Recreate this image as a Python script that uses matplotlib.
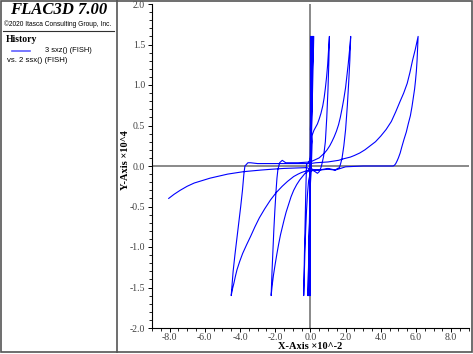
import numpy as np
import matplotlib
matplotlib.use("Agg")
import matplotlib.pyplot as plt
from matplotlib.lines import Line2D
from matplotlib.patches import Rectangle
from matplotlib.ticker import MultipleLocator

# --- history data (x: ssx x10^-2, y: sxz x10^4) ---
small_loops_x = [0.0, -0.02, 0.03, -0.05, 0.07, -0.08, 0.11, -0.11, 0.15, -0.14, 0.19, 0.0]
small_loops_y = [0.0, -1.6, 1.6, -1.6, 1.6, -1.6, 1.6, -1.6, 1.6, -1.6, 1.6, 0.45]

# tension cycle, peak near 1.1
load_c_x = [0.1, 0.05, 0.2, 0.4, 0.5, 0.6, 0.66, 0.75, 0.85, 0.93, 1.0, 1.05, 1.08]
load_c_y = [0.3, -0.03, -0.06, -0.09, -0.07, -0.02, 0.03, 0.12, 0.3, 0.6, 0.95, 1.3, 1.6]
unload_c_x = [1.08, 1.03, 0.98, 0.92, 0.85, 0.78, 0.7, 0.6, 0.5, 0.4, 0.3, 0.2, 0.1]
unload_c_y = [1.6, 1.42, 1.25, 1.1, 0.96, 0.84, 0.74, 0.65, 0.58, 0.52, 0.48, 0.44, 0.38]

# compression cycle, trough near -0.38
load_f_x = [0.0, -0.1, -0.22, -0.26, -0.3, -0.34, -0.38]
load_f_y = [0.1, 0.04, 0.02, -0.3, -0.7, -1.1, -1.6]
unload_f_x = [-0.38, -0.35, -0.31, -0.27, -0.22, -0.16, -0.1, 0.0]
unload_f_y = [-1.6, -1.35, -1.05, -0.8, -0.55, -0.33, -0.18, -0.08]

# tension cycle, peak near 2.3
load_b_x = [0.0, 0.5, 1.0, 1.4, 1.55, 1.65, 1.72, 1.8, 1.9, 2.0, 2.1, 2.18, 2.24, 2.29]
load_b_y = [-0.06, -0.05, -0.04, -0.05, -0.03, -0.02, 0.03, 0.1, 0.25, 0.45, 0.75, 1.05, 1.3, 1.6]
unload_b_x = [2.29, 2.22, 2.15, 2.07, 2.0, 1.9, 1.8, 1.7, 1.6, 1.48, 1.35, 1.22, 1.1, 0.95, 0.8, 0.65, 0.5, 0.35, 0.2, 0.0]
unload_b_y = [1.6, 1.42, 1.26, 1.1, 0.97, 0.83, 0.71, 0.6, 0.51, 0.43, 0.36, 0.3, 0.25, 0.2, 0.16, 0.13, 0.1, 0.085, 0.07, 0.05]

# compression cycle, trough near -2.2
load_e_x = [0.0, -0.7, -1.4, -1.6, -1.75, -1.85, -1.9, -1.95, -2.02, -2.08, -2.13, -2.18, -2.23]
load_e_y = [0.05, 0.04, 0.04, 0.07, 0.04, -0.05, -0.15, -0.3, -0.55, -0.8, -1.05, -1.3, -1.6]
unload_e_x = [-2.23, -2.17, -2.1, -2.0, -1.9, -1.8, -1.7, -1.6, -1.5, -1.38, -1.25, -1.1, -0.95, -0.78, -0.6, -0.45, -0.3, -0.15, 0.0]
unload_e_y = [-1.6, -1.47, -1.35, -1.21, -1.08, -0.96, -0.85, -0.76, -0.67, -0.57, -0.48, -0.38, -0.3, -0.23, -0.17, -0.13, -0.09, -0.07, -0.05]

# tension cycle, peak near 6.1
load_a_x = [0.0, 0.5, 1.0, 1.42, 2.0, 3.0, 4.0, 4.6, 4.7, 4.78, 4.85, 4.92, 5.0, 5.1, 5.2, 5.32, 5.45, 5.56, 5.68, 5.77, 5.85, 5.92, 5.97, 6.02, 6.06, 6.09, 6.12]
load_a_y = [-0.04, -0.05, -0.03, -0.05, -0.01, 0.0, 0.0, 0.0, 0.0, 0.01, 0.03, 0.06, 0.1, 0.16, 0.24, 0.33, 0.42, 0.52, 0.62, 0.73, 0.85, 0.95, 1.05, 1.17, 1.3, 1.45, 1.6]
unload_a_x = [6.12, 5.96, 5.8, 5.65, 5.5, 5.3, 5.1, 4.85, 4.6, 4.3, 4.0, 3.7, 3.4, 3.1, 2.8, 2.5, 2.27, 1.9, 1.6, 1.3, 1.0, 0.6, 0.3, 0.0]
unload_a_y = [1.6, 1.44, 1.3, 1.15, 1.02, 0.9, 0.8, 0.67, 0.55, 0.45, 0.37, 0.3, 0.25, 0.2, 0.16, 0.13, 0.11, 0.09, 0.07, 0.06, 0.05, 0.045, 0.04, 0.03]

# compression cycle, trough near -4.5
load_d_x = [0.0, -1.0, -2.0, -3.0, -3.4, -3.55, -3.72, -3.78, -3.86, -3.96, -4.07, -4.18, -4.29, -4.39, -4.5]
load_d_y = [0.03, 0.03, 0.03, 0.03, 0.04, 0.04, 0.0, -0.1, -0.3, -0.5, -0.7, -0.9, -1.1, -1.3, -1.6]
unload_d_x = [-4.5, -4.43, -4.35, -4.26, -4.17, -4.02, -3.85, -3.62, -3.4, -3.15, -2.9, -2.6, -2.27, -1.95, -1.6, -1.3, -0.95, -0.7, -0.5, -0.3, -0.1]
unload_d_y = [-1.6, -1.52, -1.45, -1.36, -1.28, -1.18, -1.08, -0.97, -0.87, -0.75, -0.64, -0.53, -0.42, -0.33, -0.25, -0.19, -0.13, -0.1, -0.08, -0.065, -0.05]

# last branch out to -8
final_x = [-0.1, -0.2, -0.8, -1.5, -2.2, -2.8, -3.3, -3.8, -4.25, -4.7, -5.2, -5.7, -6.15, -6.6, -7.0, -7.4, -7.75, -8.05]
final_y = [-0.03, -0.02, -0.025, -0.03, -0.04, -0.05, -0.06, -0.07, -0.085, -0.1, -0.125, -0.15, -0.18, -0.21, -0.25, -0.3, -0.35, -0.4]

x_ticks = [-8.0, -6.0, -4.0, -2.0, 0.0, 2.0, 4.0, 6.0, 8.0]
y_ticks = [-2.0, -1.5, -1.0, -0.5, 0.0, 0.5, 1.0, 1.5, 2.0]

W, H = 473, 354


def fx(px):
    return px / W


def fy(py):
    return 1 - py / H


def main():
    plt.rcParams['axes.unicode_minus'] = False
    fig = plt.figure(figsize=(W / 100, H / 100), dpi=100)
    fig.patch.set_facecolor('white')

    ax = fig.add_axes([fx(152), fy(328), (468.8 - 152) / W, 324 / H])
    ax.set_xlim(-9, 9)
    ax.set_ylim(-2, 2)
    for s in ['top', 'right']:
        ax.spines[s].set_visible(False)
    for s in ['left', 'bottom']:
        ax.spines[s].set_linewidth(0.8)

    # zero lines
    ax.axhline(0, color='#808080', lw=1.3, zorder=1)
    ax.axvline(0, color='#6a6a6a', lw=1.1, zorder=1)

    # whole history as one path
    segs_x = [small_loops_x, load_c_x, unload_c_x, load_f_x, unload_f_x,
              load_b_x, unload_b_x, load_e_x, unload_e_x,
              load_a_x, unload_a_x, load_d_x, unload_d_x, final_x]
    segs_y = [small_loops_y, load_c_y, unload_c_y, load_f_y, unload_f_y,
              load_b_y, unload_b_y, load_e_y, unload_e_y,
              load_a_y, unload_a_y, load_d_y, unload_d_y, final_y]
    path_x = np.concatenate(segs_x)
    path_y = np.concatenate(segs_y)
    ax.plot(path_x, path_y, color='#0000ff', lw=0.8, zorder=3)

    # ticks
    ax.set_xticks(x_ticks)
    ax.set_yticks(y_ticks)
    ax.set_xticklabels([f"{v:.1f}" for v in x_ticks])
    ax.set_yticklabels([f"{v:.1f}" for v in y_ticks])
    ax.xaxis.set_minor_locator(MultipleLocator(0.5))
    ax.yaxis.set_minor_locator(MultipleLocator(0.1))
    ax.tick_params(which='major', direction='out', length=3, width=0.7,
                   labelsize=7, labelcolor='#404040')
    ax.tick_params(which='minor', direction='out', length=2, width=0.6)
    ax.tick_params(axis='x', which='major', pad=0.5)
    ax.tick_params(axis='y', which='major', pad=2)
    for lab in ax.get_xticklabels() + ax.get_yticklabels():
        lab.set_family('Liberation Serif')

    ax.set_xlabel("X-Axis \u00d710^-2", family='Liberation Serif',
                  fontweight='bold', fontsize=7.5)
    ax.set_ylabel("Y-Axis \u00d710^4", family='Liberation Serif',
                  fontweight='bold', fontsize=7.5)
    ax.xaxis.set_label_coords((310 - 152) / 316.8, (328 - 342) / 324)
    ax.yaxis.set_label_coords((130 - 152) / 316.8, (328 - 160) / 324)

    # left info panel
    fig.text(fx(59), fy(10), "FLAC3D 7.00", family='Liberation Serif',
             fontweight='bold', style='italic', fontsize=12,
             ha='center', va='center')
    fig.text(fx(58), fy(24), "\u00a92020 Itasca Consulting Group, Inc.",
             family='Liberation Sans', fontsize=4.8, ha='center', va='center')
    fig.add_artist(Line2D([fx(3), fx(114)], [fy(31), fy(31)],
                          color='#303030', lw=0.8))
    fig.text(fx(6), fy(40), "History", family='Liberation Serif',
             fontweight='bold', fontsize=7, ha='left', va='center')
    fig.add_artist(Line2D([fx(12), fx(30)], [fy(50.5), fy(50.5)],
                          color='#6060ff', lw=1.2))
    fig.text(fx(45), fy(50), "3 sxz() (FISH)", family='Liberation Sans',
             fontsize=5.4, ha='left', va='center')
    fig.text(fx(7), fy(60), "vs. 2 ssx() (FISH)", family='Liberation Sans',
             fontsize=5.6, ha='left', va='center')

    # frames
    fig.add_artist(Rectangle((fx(0.5), fy(352)), fx(471.5), (351.5) / H,
                             transform=fig.transFigure, fill=False,
                             edgecolor='#555555', lw=1.2))
    fig.add_artist(Line2D([fx(117), fx(117)], [fy(0), fy(352)],
                          color='#555555', lw=1.2))

    fig.savefig("out.png", dpi=100, facecolor='white')


if __name__ == "__main__":
    main()
